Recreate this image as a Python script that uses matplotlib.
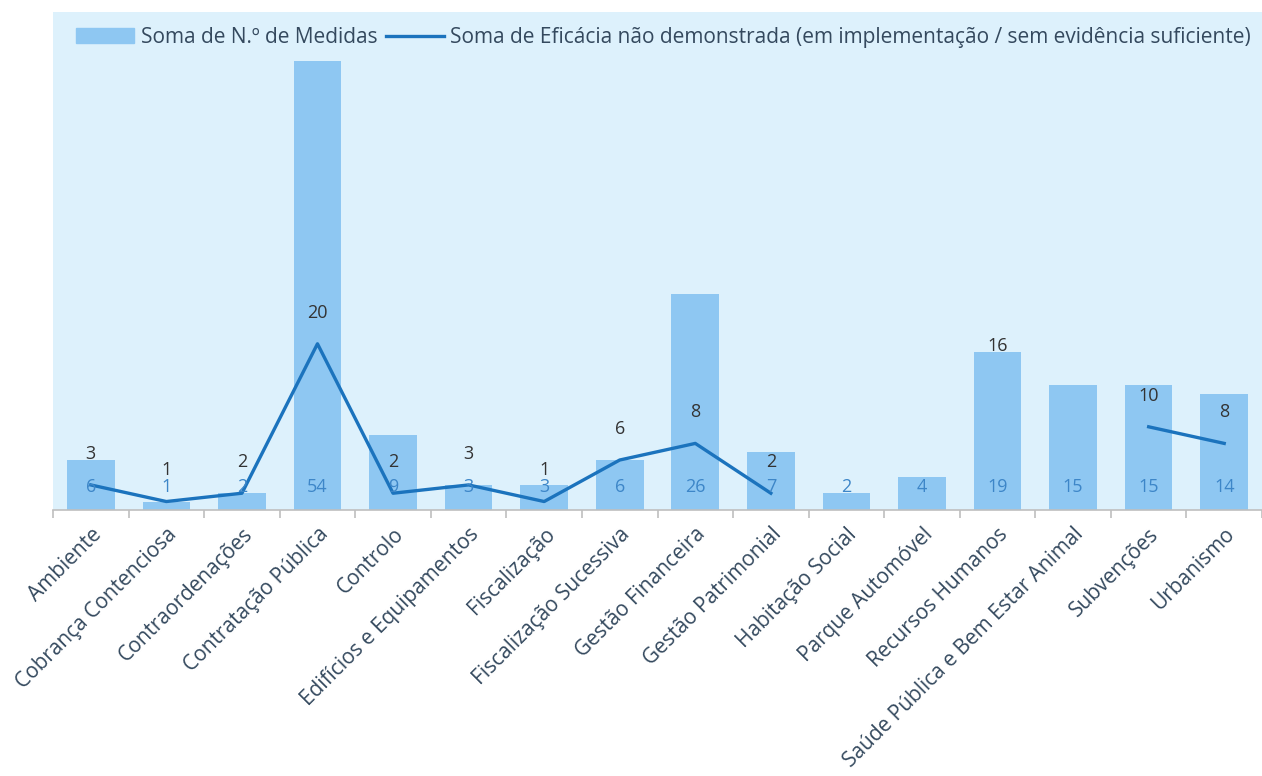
import numpy as np
import matplotlib
matplotlib.use("Agg")
import matplotlib.pyplot as plt
import matplotlib.patches as mpatches
from matplotlib.lines import Line2D

categorias = ["Ambiente", "Cobrança Contenciosa", "Contraordenações", "Contratação Pública",
              "Controlo", "Edifícios e Equipamentos", "Fiscalização", "Fiscalização Sucessiva",
              "Gestão Financeira", "Gestão Patrimonial", "Habitação Social", "Parque Automóvel",
              "Recursos Humanos", "Saúde Pública e Bem Estar Animal", "Subvenções", "Urbanismo"]
medidas = [6, 1, 2, 54, 9, 3, 3, 6, 26, 7, 2, 4, 19, 15, 15, 14]
eficacia = [3, 1, 2, 20, 2, 3, 1, 6, 8, 2, np.nan, np.nan, 16, np.nan, 10, 8]

nome_barras = "Soma de N.º de Medidas"
nome_linha = "Soma de Eficácia não demonstrada (em implementação / sem evidência suficiente)"

plt.rcParams['font.family'] = ['Open Sans', 'DejaVu Sans']

cor_barra = "#8EC7F2"
cor_linha = "#1B73BD"
cor_texto = "#34495E"

fig = plt.figure(figsize=(12.62, 7.76), dpi=100)
ax = fig.add_axes([0.042, 0.343, 0.958, 0.642])
ax.set_facecolor("#DDF1FC")

x = np.arange(len(categorias))
ax.bar(x, medidas, width=0.63, color=cor_barra, zorder=2)
ax.plot(x, eficacia, color=cor_linha, linewidth=2.4, zorder=3)

# rotulos das barras (base) e da linha (acima)
for xi, v in zip(x, medidas):
    ax.annotate(str(v), (xi, 0), xytext=(0, 16.5), textcoords="offset points",
                ha="center", va="center", fontsize=13, color="#3D86C8", zorder=4)
for xi, v in zip(x, eficacia):
    if np.isnan(v):
        continue
    ax.annotate(str(int(v)), (xi, v), xytext=(0, 22.5), textcoords="offset points",
                ha="center", va="center", fontsize=13, color="#333333", zorder=4)

ax.set_xlim(-0.5, len(categorias) - 0.5)
ax.set_ylim(0, 60)
ax.set_yticks([])
for s in ["top", "right", "left"]:
    ax.spines[s].set_visible(False)
ax.spines["bottom"].set_color("#BFBFBF")
ax.spines["bottom"].set_linewidth(1.2)

ax.set_xticks(x)
ax.set_xticklabels(categorias, rotation=45, ha="right", rotation_mode="anchor",
                   fontsize=15, color=cor_texto)
ax.tick_params(axis="x", which="major", length=0, pad=10)
ax.set_xticks(np.arange(-0.5, len(categorias), 1), minor=True)
ax.tick_params(axis="x", which="minor", length=6, color="#BFBFBF", width=1.2)

handles = [mpatches.Patch(color=cor_barra, label=nome_barras),
           Line2D([0], [0], color=cor_linha, linewidth=2.4, label=nome_linha)]
leg = ax.legend(handles=handles, loc="center", bbox_to_anchor=(0.505, 0.948), ncol=2,
                frameon=False, fontsize=15, handlelength=2.8, handletextpad=0.3,
                columnspacing=0.4)
for t in leg.get_texts():
    t.set_color(cor_texto)

fig.savefig("out.png", dpi=100)
